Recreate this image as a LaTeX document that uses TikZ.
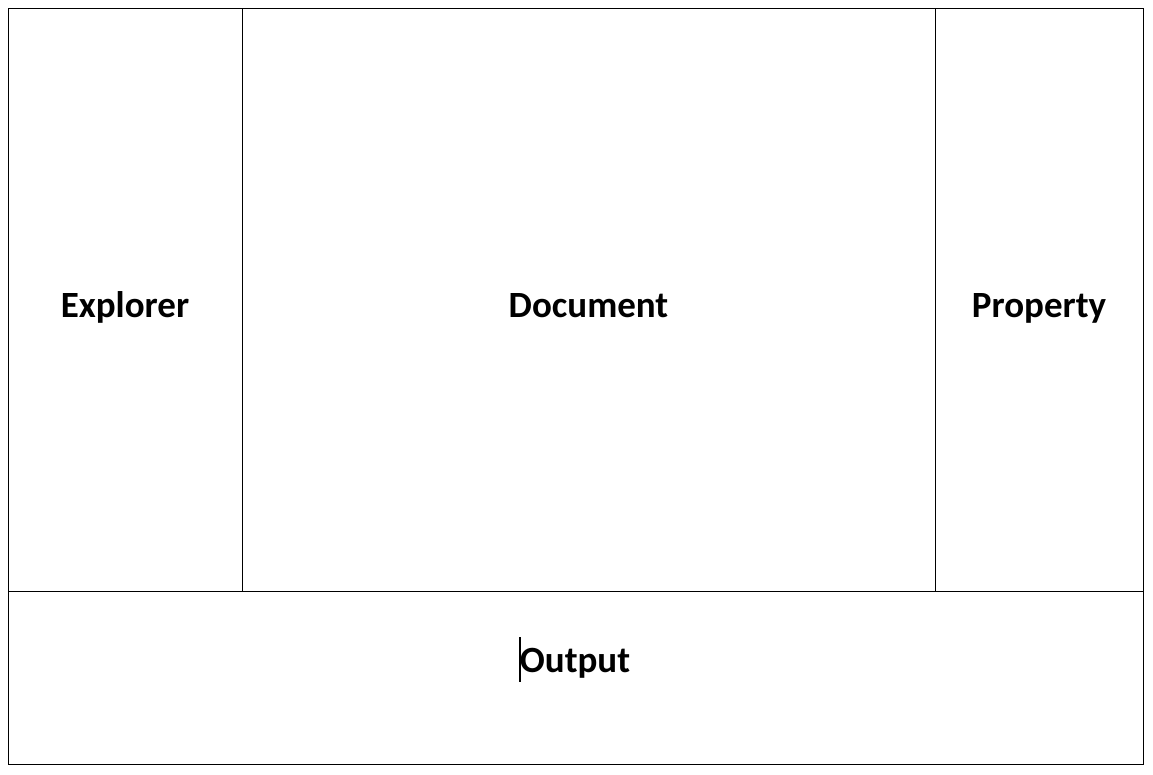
\documentclass[tikz,border=0pt]{standalone}
\usepackage{fontspec}
\setmainfont{Carlito}
\begin{document}
\begin{tikzpicture}[x=1pt,y=-1pt,
  frame/.style={draw=black,line width=1pt},
  label/.style={font=\fontsize{37}{44}\selectfont\bfseries,inner sep=0pt,anchor=base}]
\useasboundingbox (0,0) rectangle (1153,775);
\draw[frame] (8,9) rectangle (1143,764);
\draw[frame] (242,9) -- (242,591);
\draw[frame] (935,9) -- (935,591);
\draw[frame] (8,591) -- (1143,591);
\node[label] (explorer) at (125,318) {Explorer};
\node[label] (document) at (588.5,318) {Document};
\node[label] (property) at (1039,318) {Property};
\node[label] (output) at (575,672) {Output};
\coordinate (c1) at (520,637);
\coordinate (c2) at (520,682);
\draw[line width=2pt] (c1) -- (c2);
\end{tikzpicture}
\end{document}
